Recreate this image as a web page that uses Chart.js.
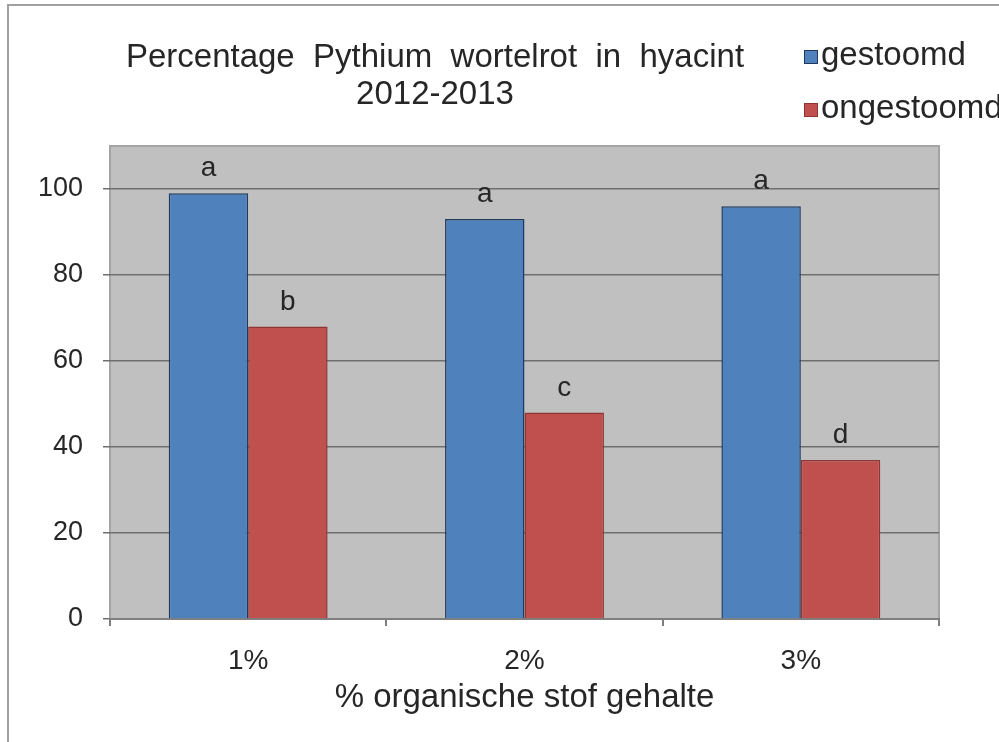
<!DOCTYPE html>
<html>
<head>
<meta charset="utf-8">
<script src="https://cdn.jsdelivr.net/npm/chart.js@4.4.1/dist/chart.umd.min.js"></script>
<style>
  html, body { margin: 0; padding: 0; background: #fff; }
  #wrap { position: relative; width: 999px; height: 742px; overflow: hidden;
          font-family: "Liberation Sans", Arial, sans-serif; color: #262626; }
  #frame { position: absolute; left: 7px; top: 4px; width: 1100px; height: 800px;
           border-top: 2px solid #a0a0a0; border-left: 2px solid #a0a0a0; }
  #chart { position: absolute; left: 0; top: 0; }
  #title { position: absolute; left: 115px; top: 37px; width: 640px; text-align: center;
           font-size: 33px; line-height: 37px; white-space: pre; }
  .leg { position: absolute; left: 804px; font-size: 33px; line-height: 37px; white-space: nowrap; }
  .leg span { display: inline-block; width: 12px; height: 12px; margin-right: 3px;
              border: 1px solid #333; vertical-align: 1px; }
</style>
</head>
<body>
<div id="wrap">
  <div id="frame"></div>
  <canvas id="chart" width="999" height="742"></canvas>
  <div id="title">Percentage  Pythium  wortelrot  in  hyacint
2012-2013</div>
  <div id="legend"></div>
</div>
<script>
// data
const categories = ["1%", "2%", "3%"];
const seriesNames = ["gestoomd", "ongestoomd"];
const gestoomd = [99, 93, 96];
const ongestoomd = [68, 48, 37];
const letters = [["a", "a", "a"], ["b", "c", "d"]];
const yTicks = [0, 20, 40, 60, 80, 100];

const fillColors = ["#4f81bd", "#c0504d"];
const edgeColors = ["#1f3a60", "#8e3431"];

// HTML legend
const legendBox = document.getElementById("legend");
seriesNames.forEach((name, i) => {
    const item = document.createElement("div");
    item.className = "leg";
    item.style.top = (35 + i * 53) + "px";
    item.innerHTML = `<span style="background:${fillColors[i]};border-color:${edgeColors[i]}"></span>${name}`;
    legendBox.appendChild(item);
});

// grey plot area
const plotBg = {
    id: "plotBg",
    beforeDraw(chart) {
        const { ctx, chartArea: a } = chart;
        ctx.save();
        ctx.fillStyle = "#c0c0c0";
        ctx.fillRect(a.left, a.top, a.right - a.left, a.bottom - a.top);
        ctx.strokeStyle = "#a4a4a4";
        ctx.lineWidth = 2;
        ctx.strokeRect(a.left, a.top, a.right - a.left, a.bottom - a.top);
        ctx.restore();
    }
};

// significance letters over the bars
const barLetters = {
    id: "barLetters",
    afterDatasetsDraw(chart) {
        const ctx = chart.ctx;
        ctx.save();
        ctx.font = '28px "Liberation Sans", Arial, sans-serif';
        ctx.fillStyle = "#262626";
        ctx.textAlign = "center";
        ctx.textBaseline = "alphabetic";
        chart.data.datasets.forEach((ds, i) => {
            chart.getDatasetMeta(i).data.forEach((bar, j) => {
                ctx.fillText(letters[i][j], bar.x, bar.y - 17);
            });
        });
        ctx.restore();
    }
};

const font = "'Liberation Sans', Arial, sans-serif";

new Chart(document.getElementById("chart"), {
    type: "bar",
    data: {
        labels: categories,
        datasets: [
            { label: seriesNames[0], data: gestoomd, backgroundColor: fillColors[0],
              borderColor: edgeColors[0], borderWidth: 1.5 },
            { label: seriesNames[1], data: ongestoomd, backgroundColor: fillColors[1],
              borderColor: edgeColors[1], borderWidth: 1.5 }
        ]
    },
    options: {
        responsive: false,
        animation: false,
        devicePixelRatio: 1,
        categoryPercentage: 0.575,
        barPercentage: 1,
        layout: { padding: { top: 146, right: 60, left: 0, bottom: 0 } },
        plugins: { legend: { display: false }, tooltip: { enabled: false } },
        scales: {
            x: {
                afterFit: (s) => { s.height = 123; },
                grid: { offset: true, drawOnChartArea: false, tickLength: 7, color: "#7f7f7f", lineWidth: 2 },
                border: { color: "#7f7f7f", width: 2 },
                ticks: { font: { family: font, size: 28 }, color: "#262626", padding: 18 },
                title: { display: true, text: "% organische stof gehalte",
                         font: { family: font, size: 33 }, color: "#262626",
                         padding: { top: 0, bottom: 24 } }
            },
            y: {
                min: 0,
                max: 110,
                afterFit: (s) => { s.width = 110; },
                afterBuildTicks: (s) => { s.ticks = yTicks.map(v => ({ value: v })); },
                grid: { color: "#6e6e6e", lineWidth: 1.5, tickLength: 7 },
                border: { display: false },
                ticks: { font: { family: font, size: 27 }, color: "#262626", padding: 20 }
            }
        }
    },
    plugins: [plotBg, barLetters]
});
</script>
</body>
</html>
